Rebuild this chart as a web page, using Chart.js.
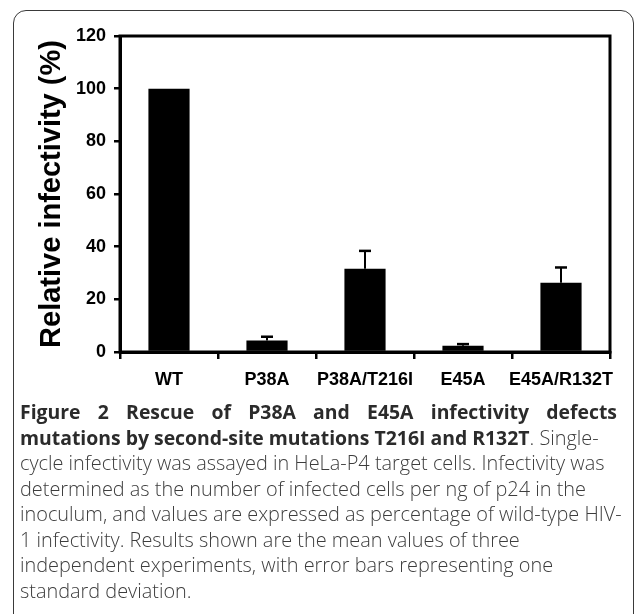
<!DOCTYPE html>
<html>
<head>
<meta charset="utf-8">
<title>Figure 2</title>
<script src="https://cdn.jsdelivr.net/npm/chart.js@4.4.1/dist/chart.umd.min.js"></script>
<style>
  html, body { margin: 0; padding: 0; background: #fff; overflow: hidden; }
  body { width: 636px; height: 614px; position: relative; }
  #frame {
    position: absolute; left: 13px; top: 10px; width: 621px; height: 700px;
    box-sizing: border-box; border: 1.5px solid #3a3a3a; border-radius: 13px;
  }
  #chartBox { position: absolute; left: 0; top: 0; width: 636px; height: 400px; }
  #caption {
    position: absolute; left: 20px; top: 399px; width: 597px;
    font-family: 'Open Sans', 'Noto Sans', sans-serif; font-size: 19.9px;
    font-weight: 300; line-height: 25.5px; color: #3d3d3d;
  }
  #caption div { white-space: nowrap; }
  #caption b { color: #2b2b2b; font-weight: 700; font-size: 19.4px; }
  #caption .first { text-align: justify; text-align-last: justify; }
</style>
</head>
<body>
<div id="frame"></div>
<div id="chartBox"><canvas id="chart" width="636" height="400"></canvas></div>
<div id="caption">
  <div class="first"><b>Figure 2 Rescue of P38A and E45A infectivity defects</b></div>
  <div><b>mutations by second-site mutations T216I and R132T</b>. Single-</div>
  <div>cycle infectivity was assayed in HeLa-P4 target cells. Infectivity was</div>
  <div>determined as the number of infected cells per ng of p24 in the</div>
  <div>inoculum, and values are expressed as percentage of wild-type HIV-</div>
  <div>1 infectivity. Results shown are the mean values of three</div>
  <div>independent experiments, with error bars representing one</div>
  <div>standard deviation.</div>
</div>
<script>
// 数据：相对感染性 (%)，三次独立实验的均值与标准差
const categories = ['WT', 'P38A', 'P38A/T216I', 'E45A', 'E45A/R132T'];
const infectivity = [100, 4.4, 31.6, 2.4, 26.3];
const stdDev = [0, 1.4, 6.8, 0.6, 5.8];
const yMin = 0;
const yMax = 120;
const yStep = 20;

Chart.defaults.font.family = "'Liberation Sans', Arial, Helvetica, sans-serif";

// 只画向上的误差线
const errorBars = {
  id: 'errorBars',
  afterDatasetsDraw(chart) {
    const ctx = chart.ctx;
    const yScale = chart.scales.y;
    const meta = chart.getDatasetMeta(0);
    ctx.save();
    ctx.strokeStyle = '#000';
    meta.data.forEach((bar, i) => {
      const err = stdDev[i];
      if (!err) return;
      const yTop = yScale.getPixelForValue(infectivity[i] + err);
      ctx.lineWidth = 2;
      ctx.beginPath();
      ctx.moveTo(bar.x, bar.y);
      ctx.lineTo(bar.x, yTop);
      ctx.stroke();
      ctx.lineWidth = 2.5;
      ctx.beginPath();
      ctx.moveTo(bar.x - 6, yTop);
      ctx.lineTo(bar.x + 6, yTop);
      ctx.stroke();
    });
    ctx.restore();
  },
};

// 图框（上边和右边）
const plotFrame = {
  id: 'plotFrame',
  afterDraw(chart) {
    const { ctx, chartArea } = chart;
    ctx.save();
    ctx.strokeStyle = '#000';
    ctx.lineWidth = 3;
    ctx.strokeRect(chartArea.left, chartArea.top, chartArea.right - chartArea.left, chartArea.bottom - chartArea.top);
    ctx.restore();
  },
};

new Chart(document.getElementById('chart'), {
  type: 'bar',
  data: {
    labels: categories,
    datasets: [
      {
        label: 'Relative infectivity (%)',
        data: infectivity,
        backgroundColor: '#000',
        borderWidth: 0,
        categoryPercentage: 1,
        barPercentage: 0.42,
      },
    ],
  },
  options: {
    responsive: false,
    animation: false,
    layout: { padding: { left: 0, top: 36, right: 26, bottom: 0 } },
    plugins: {
      legend: { display: false },
      tooltip: { enabled: false },
    },
    scales: {
      x: {
        offset: true,
        grid: { drawOnChartArea: false, offset: true, tickLength: 7, color: '#000', lineWidth: 2.5 },
        border: { color: '#000', width: 3 },
        ticks: {
          color: '#000',
          padding: 10,
          maxRotation: 0,
          autoSkip: false,
          font: { size: 18, weight: 'bold' },
        },
        afterFit(scale) {
          scale.height = 48;
        },
      },
      y: {
        min: yMin,
        max: yMax,
        grid: { drawOnChartArea: false, tickLength: 6, color: '#000', lineWidth: 2.5 },
        border: { color: '#000', width: 3 },
        ticks: {
          stepSize: yStep,
          color: '#000',
          padding: 8,
          font: { size: 18, weight: 'bold' },
        },
        title: {
          display: true,
          text: 'Relative infectivity (%)',
          color: '#000',
          font: { size: 29, weight: 'bold' },
          padding: { top: 35, bottom: 0 },
        },
        afterFit(scale) {
          scale.width = 120;
        },
      },
    },
  },
  plugins: [errorBars, plotFrame],
});
</script>
</body>
</html>
